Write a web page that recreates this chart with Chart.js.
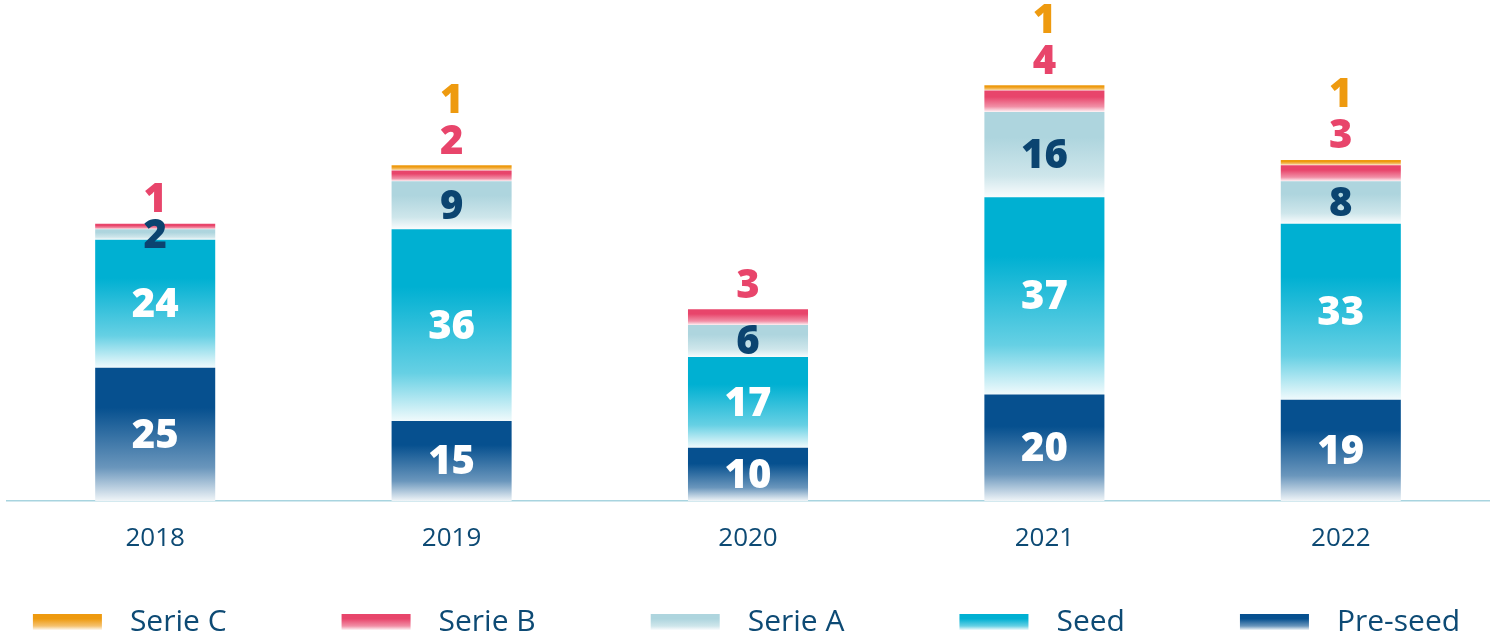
<!DOCTYPE html>
<html>
<head>
<meta charset="utf-8">
<script src="https://cdn.jsdelivr.net/npm/chart.js@4.4.1/dist/chart.umd.min.js"></script>
<style>
html,body{margin:0;padding:0;background:#fff}
</style>
</head>
<body>
<canvas id="myChart" width="1493" height="640"></canvas>
<script>
var years = ['2018','2019','2020','2021','2022']
var preSeed = [25,15,10,20,19]
var seed = [24,36,17,37,33]
var serieA = [2,9,6,16,8]
var serieB = [1,2,3,4,3]
var serieC = [0,1,0,1,1]

var names = ['Pre-seed','Seed','Serie A','Serie B','Serie C']
var colors = ['#06508f','#00b0d2','#aed5de','#e8456b','#ee9a0f']
var labelColors = ['#ffffff','#ffffff','#0b4470','#e8456b','#ee9a0f']
var series = [preSeed, seed, serieA, serieB, serieC]
var textBlue = '#0d4a74'
var numFont = '800 40px "Open Sans", sans-serif'

// mix a hex colour towards white, t=1 keeps the colour
function mix(hex, t){
    var r=parseInt(hex.substr(1,2),16), g=parseInt(hex.substr(3,2),16), b=parseInt(hex.substr(5,2),16)
    r=Math.round(255+(r-255)*t); g=Math.round(255+(g-255)*t); b=Math.round(255+(b-255)*t)
    return 'rgb('+r+','+g+','+b+')'
}

function fade(c, y0, y1, c2d){
    var g = c2d.createLinearGradient(0,y0,0,y1)
    g.addColorStop(0, c)
    g.addColorStop(0.3, c)
    g.addColorStop(0.75, mix(c,0.6))
    g.addColorStop(1, mix(c,0.06))
    return g
}

function barFill(ctx){
    var chart = ctx.chart
    var d = ctx.datasetIndex, i = ctx.dataIndex
    if (!chart.chartArea || i===undefined) return colors[d]
    var y = chart.scales.y
    var base = 0
    for (var k=0;k<d;k++) base += series[k][i]
    var y0 = y.getPixelForValue(base+series[d][i]), y1 = y.getPixelForValue(base)
    if (y1-y0 < 1) return colors[d]
    return fade(colors[d], y0, y1, chart.ctx)
}

var valueLabels = {
    id:'valueLabels',
    afterDatasetsDraw: function(chart){
        var c = chart.ctx, y = chart.scales.y
        c.save()
        c.font = numFont
        c.textAlign = 'center'
        c.textBaseline = 'middle'
        for (var d=0;d<series.length;d++){
            var meta = chart.getDatasetMeta(d)
            for (var i=0;i<series[d].length;i++){
                var v = series[d][i]
                if (!v) continue
                var el = meta.data[i]
                var ty
                if (d<3){
                    ty = (el.y+el.base)/2 + 2
                } else {
                    var total = 0
                    for (var k=0;k<series.length;k++) total += series[k][i]
                    ty = y.getPixelForValue(total) - (d==3 ? 23 : 64)
                }
                c.fillStyle = labelColors[d]
                c.fillText(String(v), el.x, ty)
            }
        }
        c.restore()
    }
}

// legend drawn at the bottom, Serie C first
var bottomLegend = {
    id:'bottomLegend',
    afterDraw: function(chart){
        var c = chart.ctx
        var order = [4,3,2,1,0]
        var boxW = 69, boxH = 16, gap = 28, pad = 115, yMid = 622
        c.save()
        c.font = '400 30px "Open Sans", sans-serif'
        var widths = order.map(function(d){ return c.measureText(names[d]).width })
        var total = 0
        for (var j=0;j<order.length;j++) total += boxW+gap+widths[j]
        total += pad*(order.length-1)
        var x = (chart.width-total)/2
        c.textBaseline = 'middle'
        c.textAlign = 'left'
        for (var j=0;j<order.length;j++){
            var d = order[j]
            c.fillStyle = fade(colors[d], yMid-8, yMid+8, c)
            c.fillRect(x, yMid-8, boxW, boxH)
            c.fillStyle = textBlue
            c.fillText(names[d], x+boxW+gap, yMid)
            x += boxW+gap+widths[j]+pad
        }
        c.restore()
    }
}

var datasets = []
for (var d=0;d<series.length;d++){
    datasets.push({
        label: names[d],
        data: series[d],
        backgroundColor: barFill,
        borderWidth: 0,
        barPercentage: 0.405,
        categoryPercentage: 1
    })
}

var ctx = document.getElementById('myChart')
var myChart = new Chart(ctx, {
    type: 'bar',
    data: { labels: years, datasets: datasets },
    plugins: [valueLabels, bottomLegend],
    options: {
        responsive: false,
        devicePixelRatio: 1,
        animation: false,
        layout: { padding: { left: 7, right: 4, top: 0, bottom: 0 } },
        plugins: { legend: { display: false }, tooltip: { enabled: false } },
        scales: {
            x: {
                stacked: true,
                grid: { display: false, drawTicks: false },
                border: { display: true, color: '#a8d4df', width: 1.5 },
                ticks: { color: textBlue, font: { family: '"Open Sans", sans-serif', size: 26 }, padding: 22 },
                afterFit: function(s){ s.height = 139 }
            },
            y: {
                stacked: true,
                display: false,
                min: 0,
                max: 94
            }
        }
    }
})
</script>
</body>
</html>
